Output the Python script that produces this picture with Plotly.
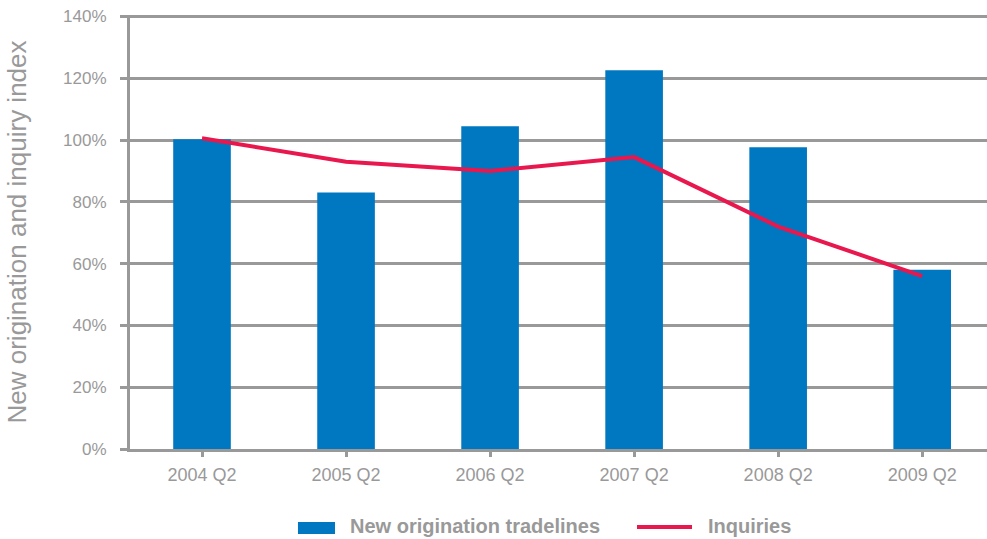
import plotly.graph_objects as go

categories = ["2004 Q2", "2005 Q2", "2006 Q2", "2007 Q2", "2008 Q2", "2009 Q2"]
tradelines = [100.3, 83.0, 104.5, 122.6, 97.7, 58.0]
inquiries = [100.6, 93.0, 90.0, 94.5, 72.0, 56.0]
y_ticks = [0, 20, 40, 60, 80, 100, 120, 140]
y_tick_labels = [f"{v}%" for v in y_ticks]
series_names = ["New origination tradelines", "Inquiries"]

grey = "#999999"
blue = "#0077C1"
red = "#E8174D"
xs = list(range(len(categories)))

fig = go.Figure()
fig.add_trace(go.Bar(x=xs, y=tradelines, name=series_names[0],
                     marker=dict(color=blue, line=dict(width=0)), width=0.4, showlegend=False))
fig.add_trace(go.Scatter(x=xs, y=inquiries, name=series_names[1], mode="lines",
                         line=dict(color=red, width=4), showlegend=False))

# custom legend below the plot (paper coordinates)
leg_y = -0.1774
fig.add_shape(type="rect", xref="paper", yref="paper", x0=0.196, x1=0.2392, y0=-0.1959, y1=-0.1682,
              fillcolor=blue, line=dict(width=0))
fig.add_shape(type="line", xref="paper", yref="paper", x0=0.5916, x1=0.6558, y0=-0.1797, y1=-0.1797,
              line=dict(color=red, width=4))
for name, xpos in zip(series_names, [0.2544, 0.6721]):
    fig.add_annotation(text=name, xref="paper", yref="paper", x=xpos, y=leg_y,
                       xanchor="left", yanchor="middle", showarrow=False,
                       font=dict(size=20, color=grey, family="Liberation Sans, Arial, sans-serif", weight="bold"))

fig.update_layout(
    width=987, height=539,
    margin=dict(l=130, r=0, t=15, b=90),
    plot_bgcolor="white", paper_bgcolor="white",
    font=dict(family="Liberation Sans, Arial, sans-serif", color=grey),
    showlegend=False,
)
fig.update_xaxes(
    range=[-0.5, 5.45], automargin=False,
    tickmode="array", tickvals=xs, ticktext=categories,
    showgrid=False, showline=True, linecolor=grey, linewidth=3,
    ticks="outside", tickson="boundaries", ticklen=5, tickwidth=3, tickcolor=grey,
    ticklabelstandoff=2,
    tickfont=dict(size=18, color=grey), zeroline=False,
)
fig.update_yaxes(
    range=[0, 140.5], automargin=False, tickmode="array", tickvals=y_ticks, ticktext=y_tick_labels,
    showgrid=True, gridcolor=grey, gridwidth=3,
    showline=True, linecolor=grey, linewidth=3,
    ticks="outside", ticklen=7, tickwidth=3, tickcolor=grey,
    ticklabelstandoff=10,
    tickfont=dict(size=17, color=grey), zeroline=False,
    title=dict(text="New origination and inquiry index", font=dict(size=26, color=grey), standoff=30),
)
fig.write_html("out.html", config={"displayModeBar": False},
               post_script="document.body.style.margin='0';document.body.style.overflow='hidden';")
